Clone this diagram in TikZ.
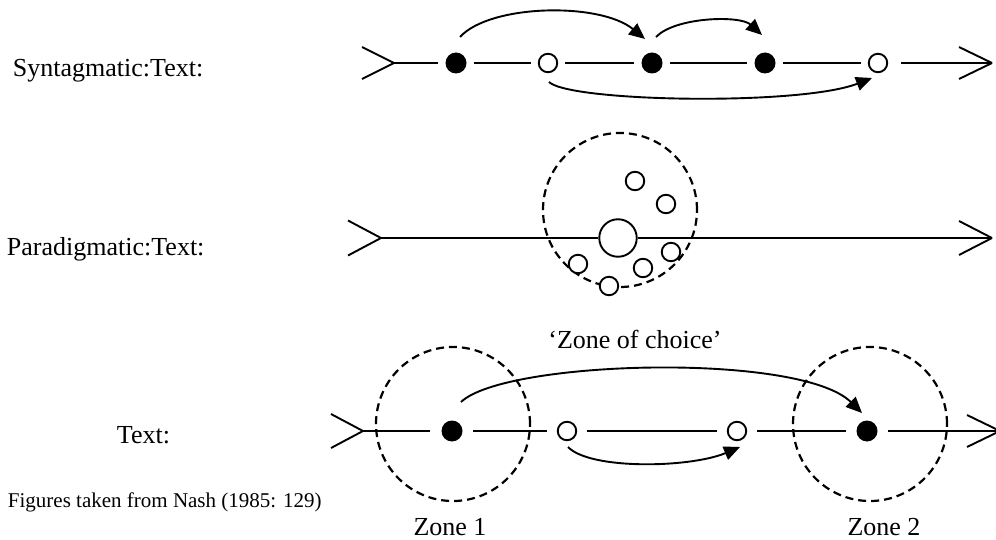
\documentclass[tikz,border=0pt]{standalone}
\usepackage{fontspec}
\setmainfont{Liberation Serif}
\usetikzlibrary{arrows.meta}
\begin{document}
\begin{tikzpicture}[x=1pt,y=-1pt,line width=1.9pt,
  fdot/.style={circle,fill=black,inner sep=0pt,minimum size=21pt},
  odot/.style={circle,draw,fill=white,inner sep=0pt,minimum size=18.5pt},
  bigdot/.style={circle,draw,fill=white,inner sep=0pt,minimum size=37.5pt},
  zone/.style={circle,draw,line width=2.2pt,dash pattern=on 8pt off 5pt,inner sep=0pt,minimum size=154pt},
  lbl/.style={inner sep=0pt,font=\fontsize{26}{30}\selectfont},
  arc/.style={-{Triangle[length=16pt,width=14pt]}},
  segA/.style={shorten <=7pt,shorten >=7pt},
  segB/.style={shorten <=10pt,shorten >=10pt}]
\useasboundingbox (0,0) rectangle (996,540);

% ---------- labels ----------
\node[lbl,anchor=base west] (t1) at (12,77) {Syntagmatic:Text:};
\node[lbl,anchor=base west] (t2) at (6,255) {Paradigmatic:Text:};
\node[lbl,anchor=base west] (t3) at (116,443) {Text:};
\node[inner sep=0pt,font=\fontsize{21}{24}\selectfont,anchor=base west] (t4) at (7,507) {Figures taken from Nash (1985: 129)};
\node[lbl,anchor=base] (zc) at (635,348) {‘Zone of choice’};
\node[lbl,anchor=base] (zl1) at (450,535) {Zone 1};
\node[lbl,anchor=base] (zl2) at (884,535) {Zone 2};

% ---------- row 1: syntagmatic ----------
\coordinate (aL) at (394,63);
\coordinate (aR) at (992,63);
\node[fdot] (f1) at (456,63) {};
\node[odot] (o1) at (548,63) {};
\node[fdot] (f2) at (652,63) {};
\node[fdot] (f3) at (765,63) {};
\node[odot] (o2) at (878,63) {};
\draw (aL) -- ++(-32,-16) (aL) -- ++(-32,16);
\draw (aR) -- ++(-33,-16) (aR) -- ++(-33,16);
\draw[shorten >=7pt] (aL) -- (f1);
\draw[segA] (f1) -- (o1);
\draw[segA] (o1) -- (f2);
\draw[segA] (f2) -- (f3);
\draw[segA] (f3) -- (o2);
\draw[shorten <=13pt] (o2) -- (aR);
\draw[arc] ([shift={(4,-26)}]f1.center) .. controls +(30,-33) and +(-45,-37) .. ([shift={(-7,-24)}]f2.center);
\draw[arc] ([shift={(4,-26)}]f2.center) .. controls +(19,-20) and +(-22,-20) .. ([shift={(-3,-28)}]f3.center);
\draw[arc] ([shift={(1,19)}]o1.center) .. controls +(21,20) and +(-72,28) .. ([shift={(-6,15)}]o2.center);

% ---------- row 2: paradigmatic ----------
\node[zone] (zp) at (620,210) {};
\coordinate (bL) at (381,238);
\coordinate (bR) at (992,238);
\draw (bL) -- ++(-33,-17.5) (bL) -- ++(-33,17.5);
\draw (bR) -- ++(-33,-17) (bR) -- ++(-33,17);
\node[bigdot] (bg) at (618,238) {};
\draw (bL) -- (bg) -- (bR);
\node[odot] (s1) at (635,181) {};
\node[odot] (s2) at (666,204) {};
\node[odot] (s3) at (578,264) {};
\node[odot] (s4) at (609,286) {};
\node[odot] (s5) at (643,268) {};
\node[odot] (s6) at (671,252) {};

% ---------- row 3: text ----------
\node[zone] (z1) at (453,424) {};
\node[zone] (z2) at (870,424) {};
\coordinate (cL) at (363,431);
\coordinate (cR) at (1000,431);
\draw (cL) -- ++(-32,-17) (cL) -- ++(-32,17);
\draw (cR) -- ++(-33,-16) (cR) -- ++(-33,16);
\node[fdot] (F1) at (452,431) {};
\node[odot] (O1) at (567,431) {};
\node[odot] (O2) at (737,431) {};
\node[fdot] (F2) at (867,431) {};
\draw[shorten >=11pt] (cL) -- (F1);
\draw[segB] (F1) -- (O1);
\draw[segB] (O1) -- (O2);
\draw[segB] (O2) -- (F2);
\draw[shorten <=10pt] (F2) -- (cR);
\draw[arc] ([shift={(9,-29)}]F1.center) .. controls +(44,-42) and +(-62,-61) .. ([shift={(-5,-18)}]F2.center);
\draw[arc] ([shift={(1,16)}]O1.center) .. controls +(22,23) and +(-50,21) .. ([shift={(3,16)}]O2.center);
\end{tikzpicture}
\end{document}
